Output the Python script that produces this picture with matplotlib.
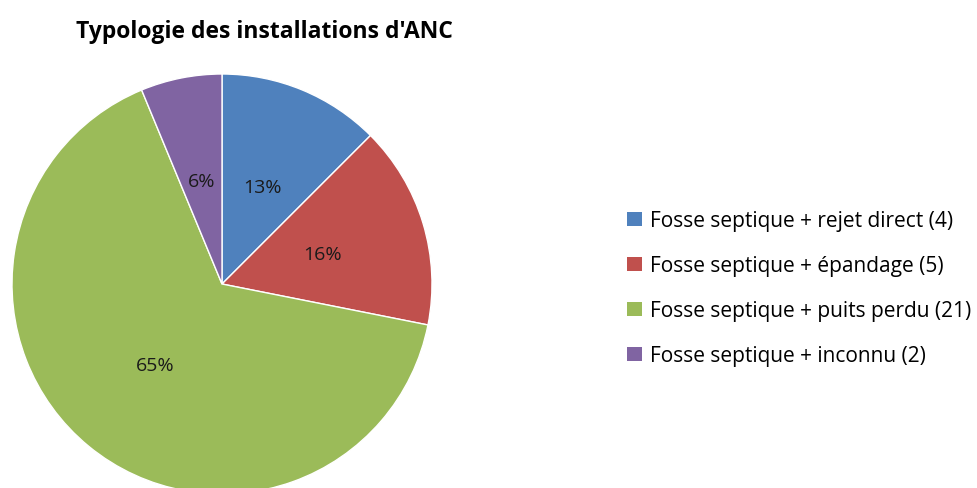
import matplotlib
matplotlib.use("Agg")
import matplotlib.pyplot as plt
from matplotlib.patches import Patch

plt.rcParams['font.family'] = ['Open Sans', 'DejaVu Sans']

# ANC installation types and their counts
categories = ["Fosse septique + rejet direct", "Fosse septique + épandage",
              "Fosse septique + puits perdu", "Fosse septique + inconnu"]
counts = [4, 5, 21, 2]
pct_labels = ["13%", "16%", "65%", "6%"]
colors = ["#4F81BD", "#C0504D", "#9BBB59", "#8064A2"]

W, H = 977, 489
fig = plt.figure(figsize=(W / 100, H / 100), dpi=100)

# pie area: centre (222, 285) px, radius 210 px
cx, cy, r = 222, 285, 210
ax = fig.add_axes([(cx - r) / W, (H - cy - r) / H, 2 * r / W, 2 * r / H])
wedges, texts = ax.pie(counts, colors=colors, startangle=90, counterclock=False,
                       radius=1, labels=pct_labels, labeldistance=0.5,
                       wedgeprops=dict(edgecolor="white", linewidth=1),
                       textprops=dict(fontsize=14, color="#1a1a1a", ha="center", va="center"))
ax.set_xlim(-1, 1)
ax.set_ylim(-1, 1)
ax.set_aspect("equal")
ax.axis("off")

fig.text(264 / W, 1 - 32 / H, "Typologie des installations d'ANC",
         ha="center", va="center", fontsize=16.5, fontweight="bold")

handles = [Patch(facecolor=c, edgecolor="none") for c in colors]
labels = [f"{n} ({v})" for n, v in zip(categories, counts)]
fig.legend(handles, labels, loc="upper left", bbox_to_anchor=(619 / W, 1 - 203 / H),
           frameon=False, fontsize=15, handlelength=0.7, handleheight=0.7,
           handletextpad=0.4, labelspacing=1.15, borderaxespad=0)

fig.savefig("out.png", dpi=100)
